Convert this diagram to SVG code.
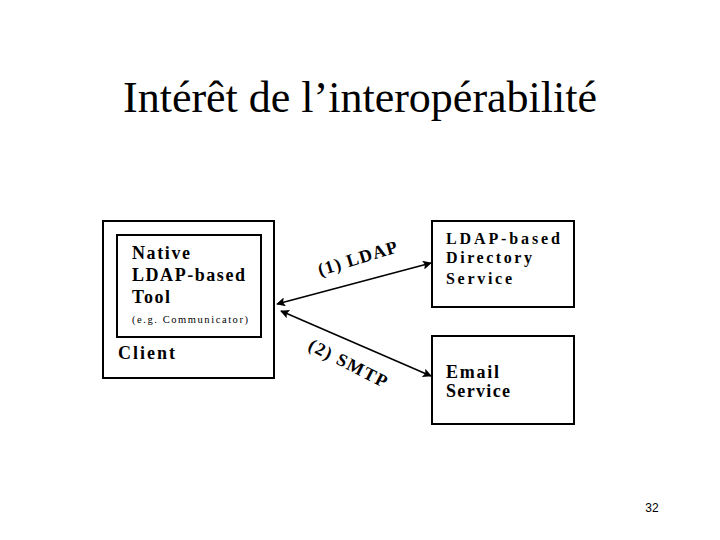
<svg xmlns="http://www.w3.org/2000/svg" width="720" height="540" viewBox="0 0 720 540">
<defs>
<style>
.box{fill:none;stroke:#000;stroke-width:2}
.lbl{font-family:"Liberation Serif","Times New Roman",serif;font-weight:bold;font-size:18px;fill:#000}
.sm{font-size:16px}
.edge{stroke:#000;stroke-width:1.6;fill:none}
</style>
<marker id="ah" viewBox="0 0 10 10" refX="9" refY="5" markerWidth="13" markerHeight="9" orient="auto-start-reverse" markerUnits="userSpaceOnUse">
<path d="M0,0 L10,5 L0,10 L2,5 Z" fill="#000"/>
</marker>
</defs>
<rect width="720" height="540" fill="#fff"/>
<text x="360" y="112" text-anchor="middle" font-family="Liberation Serif, Times New Roman, serif" font-size="44" fill="#000">Intérêt de l’interopérabilité</text>
<g id="client">
<rect class="box" x="103" y="221" width="171" height="157"/>
<text class="lbl" x="118" y="359" textLength="57">Client</text>
</g>
<g id="tool">
<rect class="box" x="117" y="235" width="144" height="102"/>
<text class="lbl" x="132" y="259" textLength="58">Native</text>
<text class="lbl" x="132" y="281" textLength="113">LDAP-based</text>
<text class="lbl" x="132" y="303" textLength="38">Tool</text>
<text x="132" y="323" font-family="Liberation Serif, Times New Roman, serif" font-size="10.5" textLength="116" fill="#000">(e.g. Communicator)</text>
</g>
<g id="directory">
<rect class="box" x="432" y="221" width="142" height="86"/>
<text class="lbl sm" x="446" y="244" textLength="114">LDAP-based</text>
<text class="lbl sm" x="446" y="263" textLength="86">Directory</text>
<text class="lbl sm" x="446" y="284" textLength="66">Service</text>
</g>
<g id="email">
<rect class="box" x="432" y="336" width="142" height="88"/>
<text class="lbl" x="446" y="378" textLength="53">Email</text>
<text class="lbl" x="446" y="397" textLength="64">Service</text>
</g>
<g id="connectors">
<line class="edge" x1="277" y1="304" x2="431" y2="263" marker-start="url(#ah)" marker-end="url(#ah)"/>
<line class="edge" x1="281" y1="311" x2="431" y2="376" marker-start="url(#ah)" marker-end="url(#ah)"/>
<text class="lbl" x="0" y="0" textLength="82" transform="translate(320,276) rotate(-17)">(1) LDAP</text>
<text class="lbl" x="0" y="0" textLength="86" transform="translate(307,349) rotate(27)">(2) SMTP</text>
</g>
<text x="652" y="512" text-anchor="middle" font-family="Liberation Sans, Arial, sans-serif" font-size="12" fill="#000">32</text>
</svg>
